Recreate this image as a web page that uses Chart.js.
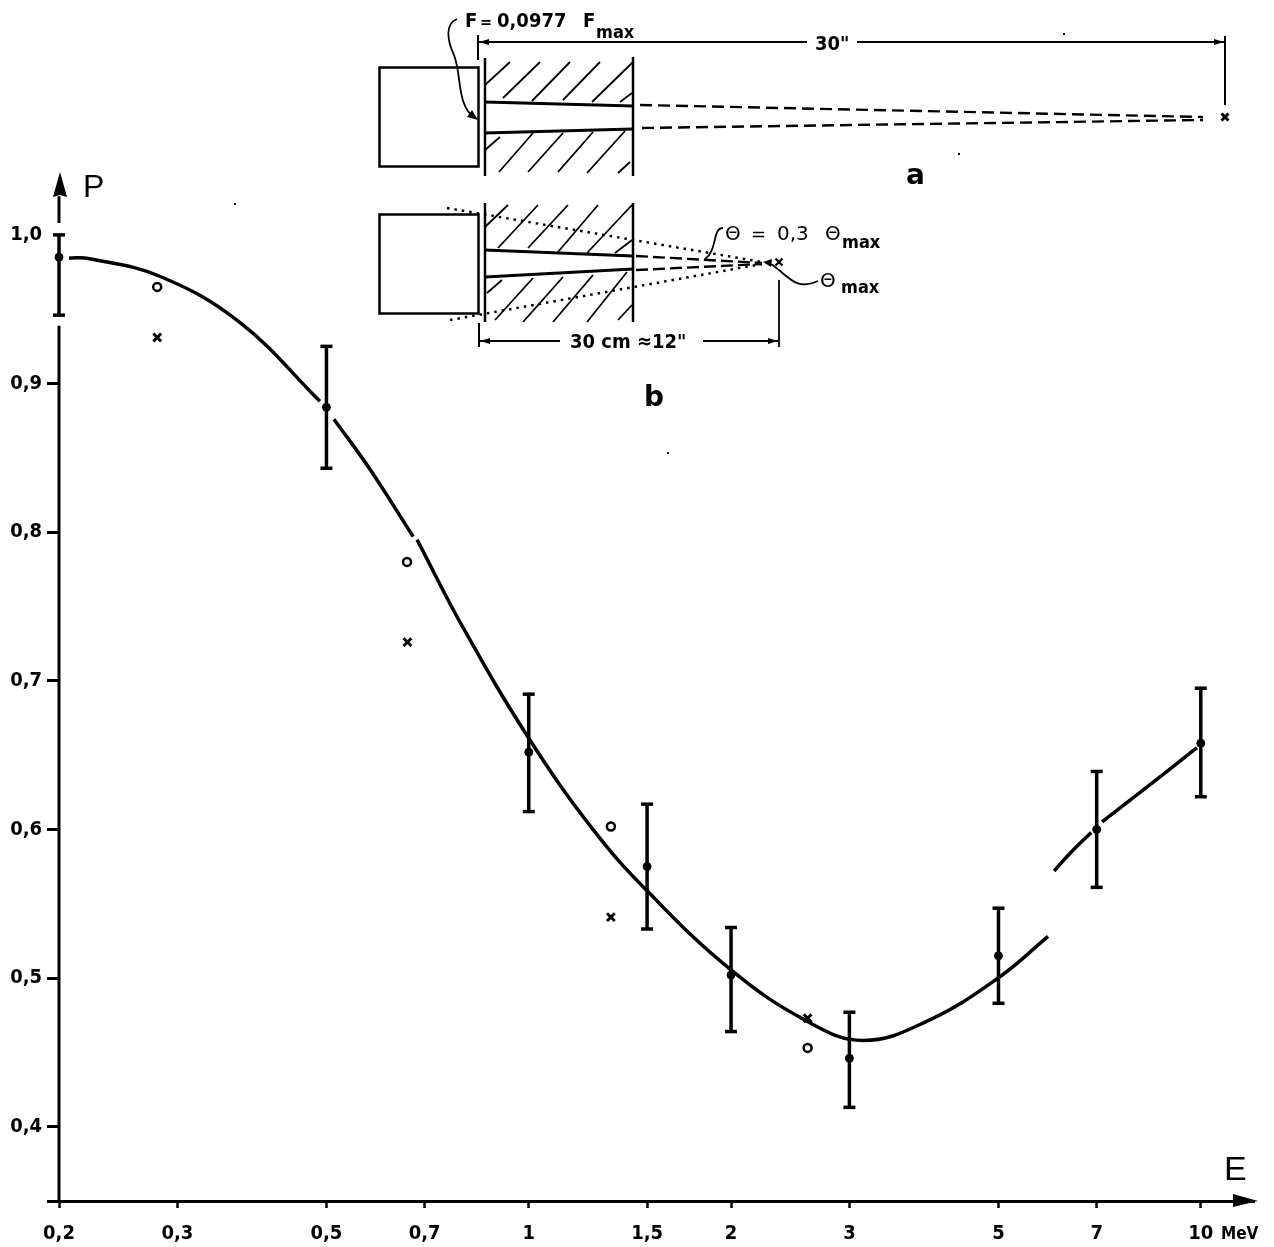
<!DOCTYPE html>
<html>
<head>
<meta charset="utf-8">
<title>P over E</title>
<script src="https://cdn.jsdelivr.net/npm/chart.js@4"></script>
<style>
    html, body { margin: 0; padding: 0; background: #fff; }
    canvas { display: block; }
</style>
</head>
<body>
<canvas id="myChart" width="1274" height="1247"></canvas>
<script>
//Tick labels
const xTicks = [0.2, 0.3, 0.5, 0.7, 1, 1.5, 2, 3, 5, 7, 10];
const xTickLabels = ['0,2', '0,3', '0,5', '0,7', '1', '1,5', '2', '3', '5', '7', '10'];
const yTicks = [0.35, 0.4, 0.5, 0.6, 0.7, 0.8, 0.9, 1.0];
const yTickLabels = ['', '0,4', '0,5', '0,6', '0,7', '0,8', '0,9', '1,0'];

//Measured points with error bars
const solidE = [0.2, 0.5, 1, 1.5, 2, 3, 5, 7, 10];
const solidP = [0.985, 0.884, 0.652, 0.575, 0.502, 0.446, 0.515, 0.600, 0.658];
const solidLow = [0.946, 0.843, 0.612, 0.533, 0.464, 0.413, 0.483, 0.561, 0.622];
const solidHigh = [1.0, 0.925, 0.691, 0.617, 0.534, 0.477, 0.547, 0.639, 0.695];

//Open circles and crosses
const circleE = [0.28, 0.659, 1.325, 2.6];
const circleP = [0.965, 0.78, 0.602, 0.453];
const crossE = [0.28, 0.66, 1.325, 2.6];
const crossP = [0.931, 0.726, 0.541, 0.473];

//Curve, null = gap in the drawn line
const curveE = [0.207, 0.222, 0.283, 0.372, 0.489, null,
    0.513, 0.581, 0.673, null,
    0.682, 0.798, 0.998, 1.246, 1.505, 1.993, 2.594, 3.144, 3.916, 4.994, 5.926, null,
    6.05, 6.39, 6.87, null,
    7.13, 8.85, 9.87];
const curveP = [0.9845, 0.984, 0.972, 0.941, 0.888, null,
    0.876, 0.842, 0.797, null,
    0.795, 0.736, 0.662, 0.600, 0.558, 0.506, 0.471, 0.458, 0.471, 0.500, 0.528, null,
    0.572, 0.584, 0.598, null,
    0.605, 0.638, 0.655];

//Vertical axis is broken around the first error bar
const axisE = [0.2, 0.2, null, 0.2, 0.2];
const axisP = [0.35, 0.9388, null, 1.008, 1.026];

const FONT = '"DejaVu Sans"';
const COND = '"DejaVu Sans Condensed"';

function zip(xs, ys) {
    return xs.map(function (x, i) {
        return {x: x, y: ys[i]};
    });
}

function errorBars() {
    let points = [];
    solidE.forEach(function (e, i) {
        points.push({x: e, y: solidLow[i]}, {x: e, y: solidHigh[i]}, {x: null, y: null});
    });
    return points;
}

function stroke(ctx, pts, width, dash) {
    ctx.lineWidth = width;
    ctx.setLineDash(dash || []);
    ctx.beginPath();
    pts.forEach(function (p, i) {
        if (i === 0) ctx.moveTo(p[0], p[1]);
        else ctx.lineTo(p[0], p[1]);
    });
    ctx.stroke();
    ctx.setLineDash([]);
}

function fillShape(ctx, pts) {
    ctx.beginPath();
    pts.forEach(function (p, i) {
        if (i === 0) ctx.moveTo(p[0], p[1]);
        else ctx.lineTo(p[0], p[1]);
    });
    ctx.closePath();
    ctx.fill();
}

function text(ctx, str, x, y, font, align) {
    ctx.font = font;
    ctx.textAlign = align || 'left';
    ctx.textBaseline = 'alphabetic';
    ctx.fillText(str, x, y);
}

function cross(ctx, x, y, r, width) {
    stroke(ctx, [[x - r, y - r], [x + r, y + r]], width);
    stroke(ctx, [[x - r, y + r], [x + r, y - r]], width);
}

function curve(ctx, x0, y0, c1x, c1y, c2x, c2y, x1, y1, width) {
    ctx.lineWidth = width;
    ctx.beginPath();
    ctx.moveTo(x0, y0);
    ctx.bezierCurveTo(c1x, c1y, c2x, c2y, x1, y1);
    ctx.stroke();
}

function drawSketchA(ctx) {
    ctx.lineWidth = 2.5;
    ctx.strokeRect(379.5, 67.5, 99, 99);
    stroke(ctx, [[485, 58], [485, 176]], 2.5);
    stroke(ctx, [[633, 57], [633, 176]], 2.5);
    stroke(ctx, [[485, 102], [633, 106]], 3);
    stroke(ctx, [[485, 133], [633, 129]], 3);
    [[485, 85, 510, 62], [503, 98, 540, 62], [532, 101, 570, 62], [563, 100, 600, 62], [592, 102, 633, 62], [620, 102, 632, 93],
        [485, 150, 500, 137], [499, 172, 533, 133], [528, 172, 563, 133], [558, 172, 593, 132], [587, 173, 625, 131], [618, 173, 630, 162]
    ].forEach(function (h) {
        stroke(ctx, [[h[0], h[1]], [h[2], h[3]]], 1.8);
    });
    stroke(ctx, [[640, 105], [1203, 117]], 2.4, [12, 6]);
    stroke(ctx, [[642, 128], [1203, 120]], 2.4, [12, 6]);
    cross(ctx, 1225, 117, 3.5, 3);

    //30" dimension
    stroke(ctx, [[478, 35], [478, 60]], 2);
    stroke(ctx, [[478, 42], [807, 42]], 1.8);
    stroke(ctx, [[857, 42], [1224, 42]], 1.8);
    stroke(ctx, [[1225, 36], [1225, 105]], 2);
    fillShape(ctx, [[479, 42], [489, 39], [489, 45]]);
    fillShape(ctx, [[1224, 42], [1214, 39], [1214, 45]]);
    text(ctx, '30"', 815, 50, 'bold 20px ' + COND);

    //F label with leader
    text(ctx, 'F', 465, 27, 'bold 20px ' + COND);
    text(ctx, '=', 480, 27, 'bold 16px ' + COND);
    text(ctx, '0,0977', 497, 27, 'bold 20px ' + COND);
    text(ctx, 'F', 583, 27, 'bold 20px ' + COND);
    text(ctx, 'max', 596, 38, 'bold 18px ' + COND);
    curve(ctx, 457, 19, 445, 24, 447, 40, 454, 55, 1.8);
    curve(ctx, 454, 55, 462, 75, 456, 105, 475, 118, 1.8);
    fillShape(ctx, [[478, 120], [467, 117], [472, 110]]);

    text(ctx, 'a', 906, 184, 'bold 28px ' + FONT);
}

function drawSketchB(ctx) {
    ctx.lineWidth = 2.5;
    ctx.strokeRect(379.5, 214.5, 99, 99);
    stroke(ctx, [[485, 203], [485, 322]], 2.5);
    stroke(ctx, [[633, 203], [633, 322]], 2.5);
    stroke(ctx, [[485, 250], [633, 256]], 3);
    stroke(ctx, [[485, 277], [633, 269]], 3);
    [[485, 227, 508, 205], [498, 248, 538, 205], [528, 248, 568, 205], [558, 252, 598, 205], [587, 253, 632, 205], [615, 253, 632, 240],
        [487, 293, 502, 280], [495, 320, 533, 278], [523, 322, 563, 277], [553, 322, 593, 275], [587, 322, 627, 272], [618, 320, 632, 305]
    ].forEach(function (h) {
        stroke(ctx, [[h[0], h[1]], [h[2], h[3]]], 1.8);
    });
    stroke(ctx, [[636, 256], [762, 263]], 2.4, [12, 5]);
    stroke(ctx, [[636, 270], [762, 264]], 2.4, [12, 5]);
    stroke(ctx, [[447, 208], [762, 262]], 2.5, [2.5, 5]);
    stroke(ctx, [[450, 320], [762, 264]], 2.5, [2.5, 5]);
    cross(ctx, 779, 262, 3.5, 2.2);

    //30 cm dimension
    stroke(ctx, [[479, 323], [479, 347]], 2);
    stroke(ctx, [[779, 280], [779, 347]], 1.8);
    stroke(ctx, [[479, 341], [560, 341]], 1.8);
    stroke(ctx, [[703, 341], [779, 341]], 1.8);
    fillShape(ctx, [[480, 341], [490, 338], [490, 344]]);
    fillShape(ctx, [[778, 341], [768, 338], [768, 344]]);
    text(ctx, '30 cm \u224812"', 570, 348, 'bold 20px ' + COND);

    //Theta labels with leaders
    text(ctx, '\u0398', 725, 240, '20px ' + FONT);
    text(ctx, '=', 751, 240, '18px ' + FONT);
    text(ctx, '0,3', 777, 240, '20px ' + FONT);
    text(ctx, '\u0398', 825, 240, '20px ' + FONT);
    text(ctx, 'max', 842, 248, '600 18px ' + COND);
    curve(ctx, 723, 228, 712, 228, 718, 250, 705, 259, 1.8);
    text(ctx, '\u0398', 820, 287, '20px ' + FONT);
    text(ctx, 'max', 841, 293, '600 18px ' + COND);
    curve(ctx, 818, 281, 795, 291, 790, 277, 771, 264, 1.8);
    fillShape(ctx, [[763, 262], [772, 259], [771, 267]]);

    text(ctx, 'b', 644, 406, 'bold 28px ' + FONT);
}

//Axis arrows, axis letters and the two sketches above the plot
const sketchPlugin = {
    id: 'sketch',
    afterDraw: function (chart) {
        let ctx = chart.ctx;
        let area = chart.chartArea;
        ctx.save();
        ctx.strokeStyle = '#000';
        ctx.fillStyle = '#000';

        fillShape(ctx, [[area.left + 1, 172], [area.left + 8, 197], [area.left + 1, 195], [area.left - 6, 197]]);
        fillShape(ctx, [[1258, area.bottom], [1233, area.bottom - 7], [1233, area.bottom + 6]]);

        text(ctx, 'P', 83, 197, '32px "Liberation Sans"');
        text(ctx, 'E', 1224, 1180, '34px "Liberation Sans"');
        text(ctx, 'MeV', 1221, 1239, 'bold 17px ' + COND);

        drawSketchA(ctx);
        drawSketchB(ctx);

        //Scan specks
        [[1063, 33], [958, 153], [667, 452], [234, 203]].forEach(function (s) {
            ctx.fillRect(s[0], s[1], 2, 2);
        });
        ctx.restore();
    }
};

function loadChart() {
    let ctx = document.getElementById('myChart');
    new Chart(ctx, {
        type: 'scatter',
        plugins: [sketchPlugin],
        data: {
            datasets: [
                {
                    label: 'Kurve',
                    data: zip(curveE, curveP),
                    showLine: true,
                    spanGaps: false,
                    tension: 0.4,
                    borderColor: '#000',
                    borderWidth: 3.5,
                    pointRadius: 0
                },
                {
                    label: 'Fehler',
                    data: errorBars(),
                    showLine: true,
                    spanGaps: false,
                    clip: false,
                    borderColor: '#000',
                    borderWidth: 3.5,
                    pointStyle: 'line',
                    pointRadius: 6,
                    pointBorderWidth: 3.5,
                    pointBorderColor: '#000'
                },
                {
                    label: 'Messwerte',
                    data: zip(solidE, solidP),
                    clip: false,
                    pointRadius: 4,
                    pointBackgroundColor: '#000',
                    pointBorderColor: '#000'
                },
                {
                    label: 'Kreise',
                    data: zip(circleE, circleP),
                    pointStyle: 'circle',
                    pointRadius: 4,
                    pointBorderWidth: 2.5,
                    pointBackgroundColor: '#fff',
                    pointBorderColor: '#000'
                },
                {
                    label: 'Kreuze',
                    data: zip(crossE, crossP),
                    pointStyle: 'crossRot',
                    pointRadius: 5.5,
                    pointBorderWidth: 3,
                    pointBorderColor: '#000'
                },
                {
                    label: 'Achse',
                    data: zip(axisE, axisP),
                    showLine: true,
                    spanGaps: false,
                    clip: false,
                    borderColor: '#000',
                    borderWidth: 3,
                    pointRadius: 0
                }
            ]
        },
        options: {
            responsive: false,
            animation: false,
            layout: {padding: {top: 168, right: 20, bottom: 0, left: 0}},
            plugins: {
                legend: {display: false},
                title: {display: false},
                tooltip: {enabled: false}
            },
            scales: {
                x: {
                    type: 'logarithmic',
                    min: 0.2,
                    max: 12,
                    afterBuildTicks: function (scale) {
                        scale.ticks = xTicks.map(function (v) {
                            return {value: v};
                        });
                    },
                    afterFit: function (scale) {
                        scale.height = 46;
                    },
                    border: {display: true, color: '#000', width: 3},
                    grid: {drawOnChartArea: false, drawTicks: true, tickLength: 7, tickWidth: 2.5, tickColor: '#000'},
                    ticks: {
                        autoSkip: false,
                        maxRotation: 0,
                        padding: 14,
                        color: '#000',
                        font: {family: 'DejaVu Sans Condensed', size: 20, weight: 'bold'},
                        callback: function (value) {
                            return xTickLabels[xTicks.indexOf(value)];
                        }
                    }
                },
                y: {
                    type: 'linear',
                    min: 0.35,
                    max: 1.045,
                    afterBuildTicks: function (scale) {
                        scale.ticks = yTicks.map(function (v) {
                            return {value: v};
                        });
                    },
                    afterFit: function (scale) {
                        scale.width = 59;
                    },
                    border: {display: false},
                    grid: {
                        drawOnChartArea: false,
                        drawTicks: true,
                        tickLength: 12,
                        tickWidth: 3,
                        tickColor: function (c) {
                            return c.tick && c.tick.value === 1.0 ? 'rgba(0,0,0,0)' : '#000';
                        }
                    },
                    ticks: {
                        padding: 5,
                        autoSkip: false,
                        color: '#000',
                        font: {family: 'DejaVu Sans Condensed', size: 20, weight: 'bold'},
                        callback: function (value) {
                            return yTickLabels[yTicks.indexOf(value)];
                        }
                    }
                }
            }
        }
    });
}

loadChart();
</script>
</body>
</html>
